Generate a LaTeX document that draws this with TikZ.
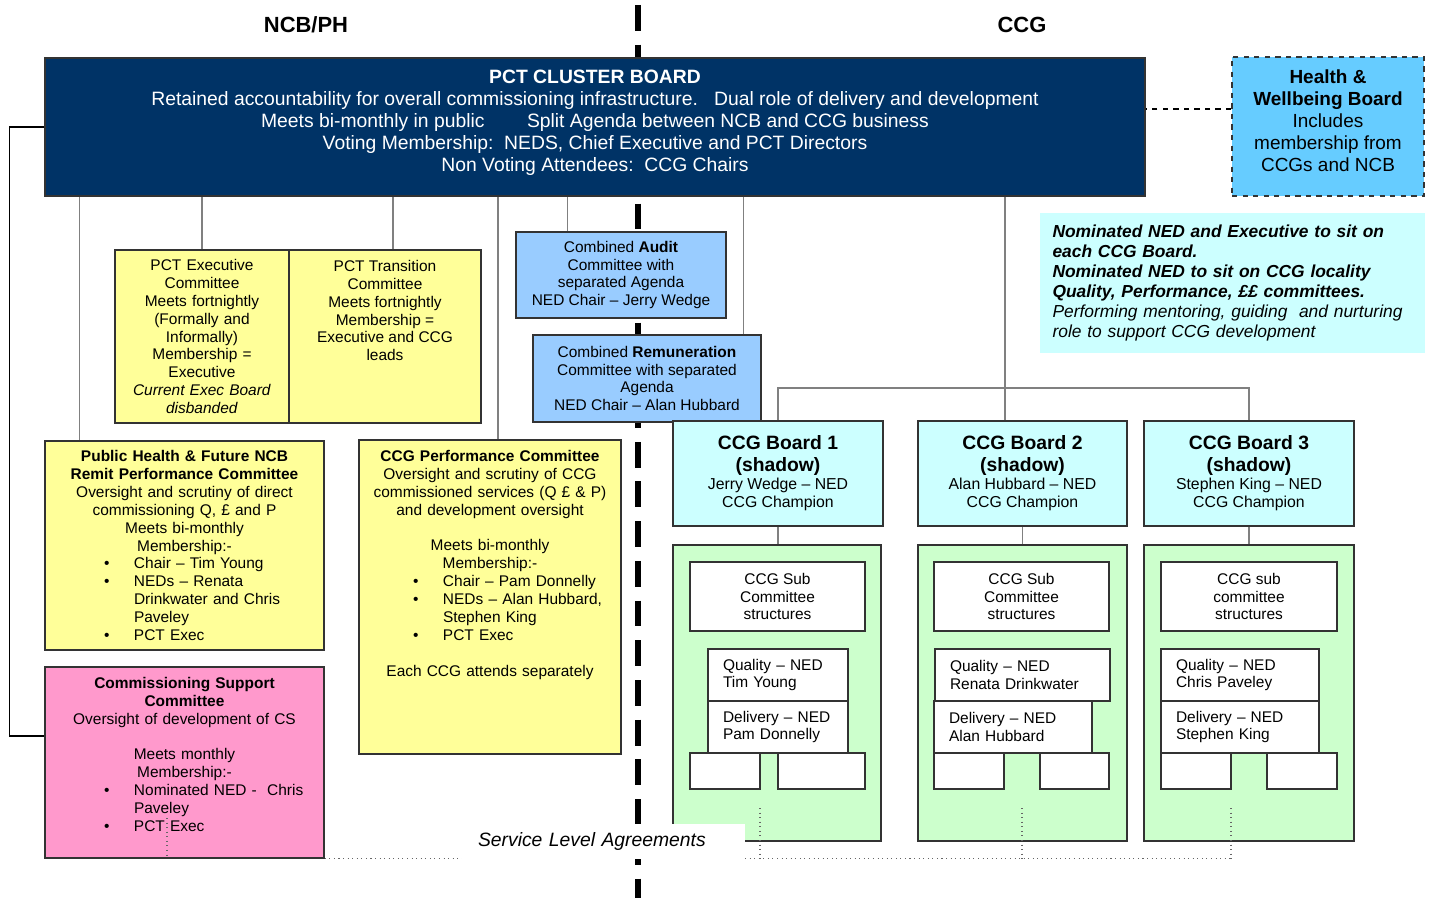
\documentclass[tikz,border=0pt]{standalone}
\usepackage{fontspec}
\setmainfont{Liberation Sans}
\usetikzlibrary{positioning}

\definecolor{navy}{RGB}{0,51,102}
\definecolor{hwbblue}{RGB}{102,204,255}
\definecolor{notecyan}{RGB}{204,255,255}
\definecolor{auditblue}{RGB}{153,204,255}
\definecolor{pctyellow}{RGB}{255,255,153}
\definecolor{cspink}{RGB}{255,153,204}
\definecolor{ccggreen}{RGB}{204,255,204}
\definecolor{linkgrey}{RGB}{128,128,128}

\newcommand{\bodyfont}{\fontsize{8.8}{10.2}\selectfont}
\newcommand{\boardfont}{\fontsize{11}{13}\selectfont\bfseries}
\newcommand{\bitem}[2]{\makebox[\hsize][l]{\hspace*{#1}\makebox[0.6cm][l]{\textbullet}#2}}
\newcommand{\bmore}[2]{\makebox[\hsize][l]{\hspace*{#1}\hspace*{0.6cm}#2}}

\tikzset{
  divider/.style={line width=3.4pt, dash pattern=on 14.7pt off 7.9pt},
  heading/.style={font=\fontsize{12.5}{15}\selectfont\bfseries, inner sep=0pt},
  box/.style={draw=black!80, line width=0.9pt, inner sep=0pt, align=center, font=\bodyfont},
  clusterbox/.style={box, fill=navy},
  clustertext/.style={align=center, text=white, inner sep=0pt, font=\fontsize{11}{12.5}\selectfont},
  hwbbox/.style={box, fill=hwbblue, dashed},
  hwbtext/.style={align=center, inner sep=0pt, font=\fontsize{10.8}{12.5}\selectfont},
  notebox/.style={fill=notecyan, inner xsep=0.25cm, inner ysep=0pt, align=left, font=\fontsize{9.9}{11.4}\selectfont\itshape},
  auditbox/.style={box, fill=auditblue},
  ybox/.style={box, fill=pctyellow},
  pinkbox/.style={box, fill=cspink},
  bodytext/.style={align=center, inner sep=0pt, font=\bodyfont},
  boardbox/.style={box, fill=notecyan, minimum width=4.2cm, minimum height=2.1cm, font=\fontsize{9}{10.3}\selectfont},
  greenbox/.style={box, fill=ccggreen, minimum height=5.92cm},
  whitebox/.style={box, fill=white},
  nedbox/.style={whitebox, minimum height=1.04cm, inner xsep=0.3cm, align=left},
  slotbox/.style={whitebox, minimum height=0.72cm},
  link/.style={draw=linkgrey, line width=0.7pt},
  mainlink/.style={draw=black, line width=0.8pt},
  hwblink/.style={draw=black, line width=0.8pt, dashed},
  slalink/.style={draw=black!60, line width=0.6pt, dotted},
  slabox/.style={fill=white, minimum width=5.66cm, minimum height=0.7cm, text width=5.02cm, inner xsep=0.32cm, inner ysep=0pt, align=left, font=\fontsize{11}{13}\selectfont\itshape}
}

\begin{document}
\begin{tikzpicture}[x=0.02cm, y=-0.02cm]
\useasboundingbox (0,0) rectangle (1431,898);

% Divider
    \coordinate (divtop) at (638,5);
    \coordinate (divbot) at (638,898);
    \draw[divider] (divtop) -- (divbot);

% Headings
    \node[heading] (ncbph) at (306,25) {NCB/PH};
    \node[heading] (ccghead) at (1022,25) {CCG};

% Note
    \node[notebox, minimum width=7.7cm, minimum height=2.8cm, text width=7.2cm] (note) at (1232.5,283) {\textbf{Nominated NED and Executive to sit on}\\\textbf{each CCG Board.}\\\textbf{Nominated NED to sit on CCG locality}\\\textbf{Quality, Performance, ££ committees.}\\Performing mentoring, guiding\ \ and nurturing\\role to support CCG development};

% Nodes
    \node[clusterbox, minimum width=22cm, minimum height=2.76cm] (cluster) at (595,127) {};
    \node[clustertext, below=0.25cm of cluster.north] (clustertxt) {\textbf{PCT CLUSTER BOARD}\\Retained accountability for overall commissioning infrastructure.\ \ \ Dual role of delivery and development\\Meets bi-monthly in public\hspace{2.2em}Split Agenda between NCB and CCG business\\Voting Membership:\ \ NEDS, Chief Executive and PCT Directors\\Non Voting Attendees:\ \ CCG Chairs};
    \node[hwbbox, minimum width=3.84cm, minimum height=2.78cm] (hwb) at (1328,126.5) {};
    \node[hwbtext, below=0.27cm of hwb.north] (hwbtxt) {\textbf{Health \&}\\\textbf{Wellbeing Board}\\Includes\\membership from\\CCGs and NCB};

    \node[auditbox, minimum width=4.2cm, minimum height=1.72cm] (audit) at (621,275) {Combined \textbf{Audit}\\Committee with\\separated Agenda\\NED Chair – Jerry Wedge};
    \node[auditbox, minimum width=4.56cm, minimum height=1.74cm] (remun) at (647,378.5) {Combined \textbf{Remuneration}\\Committee with separated\\Agenda\\NED Chair – Alan Hubbard};

    \node[ybox, minimum width=3.48cm, minimum height=3.46cm, text width=3.28cm] (exec) at (202,336.5) {PCT Executive\\Committee\\Meets fortnightly\\(Formally and\\Informally)\\Membership =\\Executive\\\textit{Current Exec Board}\\\textit{disbanded}};
    \node[ybox, minimum width=3.84cm, minimum height=3.46cm] (trans) at (385,336.5) {};
    \node[bodytext, below=0.21cm of trans.north] (transtxt) {PCT Transition\\Committee\\Meets fortnightly\\Membership =\\Executive and CCG\\leads};

    \node[ybox, minimum width=5.58cm, minimum height=4.18cm, text width=5.38cm] (ph) at (184.5,545.5) {\textbf{Public Health \& Future NCB}\\\textbf{Remit Performance Committee}\\Oversight and scrutiny of direct\\commissioning Q, £ and P\\Meets bi-monthly\\Membership:-\\\bitem{1.08cm}{Chair – Tim Young}\\\bitem{1.08cm}{NEDs – Renata}\\\bmore{1.08cm}{Drinkwater and Chris}\\\bmore{1.08cm}{Paveley}\\\bitem{1.08cm}{PCT Exec}};
    \node[ybox, minimum width=5.24cm, minimum height=6.28cm] (perf) at (490,597) {};
    \node[bodytext, text width=5.04cm, below=0.21cm of perf.north] (perftxt) {\textbf{CCG Performance Committee}\\Oversight and scrutiny of CCG\\commissioned services (Q £ \& P)\\and development oversight\\[10.2pt]Meets bi-monthly\\Membership:-\\\bitem{0.98cm}{Chair – Pam Donnelly}\\\bitem{0.98cm}{NEDs – Alan Hubbard,}\\\bmore{0.98cm}{Stephen King}\\\bitem{0.98cm}{PCT Exec}\\[10.2pt]Each CCG attends separately};
    \node[pinkbox, minimum width=5.58cm, minimum height=3.82cm] (cs) at (184.5,762.5) {};
    \node[bodytext, text width=5.38cm, below=0.21cm of cs.north] (cstxt) {\textbf{Commissioning Support}\\\textbf{Committee}\\Oversight of development of CS\\[10.2pt]Meets monthly\\Membership:-\\\bitem{1.08cm}{Nominated NED -\ \ Chris}\\\bmore{1.08cm}{Paveley}\\\bitem{1.08cm}{PCT Exec}};

    \node[boardbox] (board1) at (778,473.5) {{\boardfont CCG Board 1}\\[2pt]{\boardfont (shadow)}\\Jerry Wedge – NED\\CCG Champion};
    \node[boardbox, minimum width=4.18cm] (board2) at (1022.5,473.5) {{\boardfont CCG Board 2}\\[2pt]{\boardfont (shadow)}\\Alan Hubbard – NED\\CCG Champion};
    \node[boardbox] (board3) at (1249,473.5) {{\boardfont CCG Board 3}\\[2pt]{\boardfont (shadow)}\\Stephen King – NED\\CCG Champion};

% CCG structures
    \node[greenbox, minimum width=4.16cm] (green1) at (777,693) {};
    \node[greenbox, minimum width=4.18cm] (green2) at (1022.5,693) {};
    \node[greenbox, minimum width=4.2cm] (green3) at (1249,693) {};

    \node[whitebox, minimum width=3.5cm, minimum height=1.38cm] (sub1) at (777.5,596.5) {CCG Sub\\Committee\\structures};
    \node[whitebox, minimum width=3.5cm, minimum height=1.38cm] (sub2) at (1021.5,596.5) {CCG Sub\\Committee\\structures};
    \node[whitebox, minimum width=3.52cm, minimum height=1.38cm] (sub3) at (1249,596.5) {CCG sub\\committee\\structures};

    \node[nedbox, minimum width=2.8cm, text width=2.2cm] (qual1) at (778,675) {Quality – NED\\Tim Young};
    \node[nedbox, minimum width=2.8cm, text width=2.2cm] (deliv1) at (778,727) {Delivery – NED\\Pam Donnelly};
    \node[nedbox, minimum width=3.5cm, text width=2.9cm] (qual2) at (1022.5,675) {Quality – NED\\Renata Drinkwater};
    \node[nedbox, minimum width=3.16cm, text width=2.56cm] (deliv2) at (1013,727) {Delivery – NED\\Alan Hubbard};
    \node[nedbox, minimum width=3.16cm, text width=2.56cm] (qual3) at (1240,675) {Quality – NED\\Chris Paveley};
    \node[nedbox, minimum width=3.16cm, text width=2.56cm] (deliv3) at (1240,727) {Delivery – NED\\Stephen King};

    \node[slotbox, minimum width=1.4cm] (slot1a) at (725,771) {};
    \node[slotbox, minimum width=1.74cm] (slot1b) at (821.5,771) {};
    \node[slotbox, minimum width=1.4cm] (slot2a) at (969,771) {};
    \node[slotbox, minimum width=1.38cm] (slot2b) at (1074.5,771) {};
    \node[slotbox, minimum width=1.4cm] (slot3a) at (1196,771) {};
    \node[slotbox, minimum width=1.4cm] (slot3b) at (1302,771) {};

% Connections
    \coordinate (phin) at ([xshift=0.7cm]ph.north west);
    \coordinate (transin) at ([xshift=0.16cm]trans.north);
    \coordinate (perfin) at ([xshift=0.16cm]perf.north);
    \coordinate (auditin) at ([xshift=1.04cm]audit.north west);
    \coordinate (remunin) at ([xshift=-0.36cm]remun.north east);
    \coordinate (board2in) at ([xshift=-0.35cm]board2.north);
    \coordinate (hwbin) at ([yshift=0.35cm]hwb.west);
    \coordinate (bus) at (0,388);

    \draw[mainlink] (cluster.west) -- ++(-35,0) |- ([yshift=0.53cm]cs.west);
    \draw[hwblink] (hwbin) -- (hwbin -| cluster.east);
    \foreach \n in {phin, exec.north, transin, perfin, auditin, remunin, board2in}
        \draw[link] (\n) -- (\n |- cluster.south);
    \draw[link] (board1.north) |- (bus -| board3.north) -- (board3.north);
    \foreach \i in {1,2,3}
        \draw[link] (board\i.south) -- (board\i.south |- green\i.north);

% Service level agreements
    \coordinate (sla0) at (167,818);
    \coordinate (sla1) at (760,808);
    \coordinate (sla2) at (1022,808);
    \coordinate (sla3) at (1231,808);
    \draw[slalink] (cs.south east) -- (sla3 |- cs.south);
    \foreach \s in {sla0, sla1, sla2, sla3}
        \draw[slalink] (\s) -- (\s |- cs.south);
    \node[slabox] (sla) at (603.5,841.5) {Service Level Agreements};

\end{tikzpicture}
\end{document}
